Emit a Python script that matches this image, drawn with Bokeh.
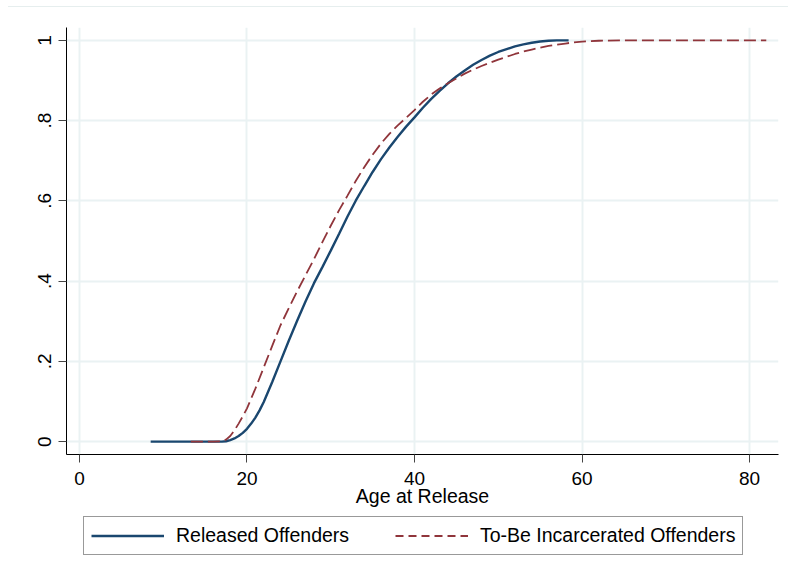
from bokeh.plotting import figure
from bokeh.models import Range1d, FixedTicker, Legend, LegendItem, Div
from bokeh.layouts import column
from bokeh.embed import file_html
from bokeh.resources import INLINE

# Released offenders (solid blue)
released_age = [8.5, 12, 16, 17, 17.5, 18, 18.5, 19, 19.5, 20, 20.5, 21, 21.5, 22,
                23, 24, 25, 26, 27, 28, 29, 30, 31, 32, 33, 34, 35, 36, 37, 38, 39,
                40, 41, 42, 43, 44, 45, 46, 47, 48, 49, 50, 51, 52, 53, 54, 55, 56,
                57, 58.4]
released_cdf = [0, 0, 0, 0.0, 0.001, 0.004, 0.008, 0.014, 0.022, 0.032, 0.045, 0.060,
                0.078, 0.099, 0.148, 0.200, 0.252, 0.302, 0.350, 0.395, 0.435, 0.476,
                0.518, 0.561, 0.601, 0.637, 0.672, 0.704, 0.733, 0.760, 0.785, 0.808,
                0.832, 0.854, 0.874, 0.893, 0.910, 0.925, 0.939, 0.951, 0.962, 0.971,
                0.978, 0.985, 0.990, 0.994, 0.997, 0.999, 1.0, 1.0]

# To-be incarcerated offenders (dashed red)
incarc_age = [13.3, 16, 17, 17.5, 18, 18.5, 19, 19.5, 20, 21, 22, 23, 24, 25, 26, 27,
              28, 29, 30, 31, 32, 33, 34, 35, 36, 37, 38, 39, 40, 41, 42, 43, 44, 45,
              46, 47, 48, 49, 50, 51, 52, 53, 54, 55, 56, 57, 58, 59, 60, 62, 65, 70,
              75, 82]
incarc_cdf = [0, 0, 0.001, 0.005, 0.014, 0.028, 0.045, 0.063, 0.083, 0.132, 0.185,
              0.238, 0.290, 0.333, 0.375, 0.415, 0.455, 0.497, 0.538, 0.577, 0.613,
              0.650, 0.684, 0.715, 0.743, 0.767, 0.788, 0.807, 0.826, 0.847, 0.865,
              0.880, 0.893, 0.905, 0.917, 0.927, 0.936, 0.944, 0.952, 0.959, 0.966,
              0.972, 0.977, 0.982, 0.986, 0.989, 0.992, 0.995, 0.997, 0.999, 1.0, 1.0,
              1.0, 1.0]

x_ticks = [0, 20, 40, 60, 80]
y_ticks = [0, 0.2, 0.4, 0.6, 0.8, 1]
y_tick_labels = ["0", ".2", ".4", ".6", ".8", "1"]

series_names = ["Released Offenders", "To-Be Incarcerated Offenders"]

FONT = "Liberation Sans"
BLUE = "#1A476F"
RED = "#90353B"
GRID = "#EAF2F3"

# faint rule along the top of the graph region
top_rule = Div(text="", width=780, height=7, margin=(0, 0, 0, 8),
               styles={"border-bottom": "1px solid #E6EEEE",
                       "box-sizing": "border-box"})

p = figure(width=788, height=505, output_backend="svg", toolbar_location=None,
           x_range=Range1d(-1.55, 83.46), y_range=Range1d(-0.032, 1.032),
           min_border_left=66, min_border_right=10, min_border_top=20,
           min_border_bottom=58)
p.outline_line_color = None
p.background_fill_color = "white"
p.border_fill_color = "white"

p.xaxis.ticker = FixedTicker(ticks=x_ticks)
p.yaxis.ticker = FixedTicker(ticks=y_ticks)
p.yaxis.major_label_overrides = dict(zip(y_ticks, y_tick_labels))
p.yaxis.major_label_orientation = "vertical"

for ax in (p.xaxis, p.yaxis):
    ax.axis_line_color = "black"
    ax.axis_line_width = 1
    ax.major_tick_line_color = "#444444"
    ax.major_tick_out = 8
    ax.major_tick_in = 0
    ax.minor_tick_line_color = None
    ax.major_label_text_font = FONT
    ax.major_label_text_font_size = "19px"
    ax.major_label_text_color = "black"

p.xaxis.major_label_standoff = 9
p.yaxis.major_label_standoff = 7
p.xaxis.axis_label = "Age at Release"
p.xaxis.axis_label_text_font = FONT
p.xaxis.axis_label_text_font_size = "19.5px"
p.xaxis.axis_label_text_font_style = "normal"
p.xaxis.axis_label_text_color = "black"
p.xaxis.axis_label_standoff = -3

p.xgrid.grid_line_color = GRID
p.ygrid.grid_line_color = GRID
p.xgrid.grid_line_width = 2
p.ygrid.grid_line_width = 2

p.line(released_age, released_cdf, line_color=BLUE, line_width=2.4)
p.line(incarc_age, incarc_cdf, line_color=RED, line_width=1.8, line_dash="12 5")

# Legend strip below the plot (its frame is aligned with the plot's frame);
# the series are drawn out of view so that only the legend shows.
leg = figure(width=788, height=68, output_backend="svg", toolbar_location=None,
             x_range=Range1d(-3, -2), y_range=Range1d(0, 1),
             min_border_left=66, min_border_right=10, min_border_top=0,
             min_border_bottom=0, x_axis_type=None, y_axis_type=None)
leg.outline_line_color = None
leg.xgrid.visible = False
leg.ygrid.visible = False
l1 = leg.line(released_age, released_cdf, line_color=BLUE, line_width=2.4)
l2 = leg.line(incarc_age, incarc_cdf, line_color=RED, line_width=1.8,
              line_dash="8 5")

legend = Legend(items=[LegendItem(label=series_names[0], renderers=[l1]),
                       LegendItem(label=series_names[1], renderers=[l2])],
                orientation="horizontal", location=(17, 25),
                label_text_font=FONT, label_text_font_size="19.5px",
                label_text_color="black", glyph_width=73, glyph_height=19,
                label_standoff=12, spacing=38, padding=7, margin=0,
                label_width=181,
                border_line_color="#333333", border_line_width=1,
                background_fill_alpha=1.0)
leg.add_layout(legend)

layout = column(top_rule, p, leg, spacing=0)
open("out.html", "w").write(file_html(layout, INLINE))
